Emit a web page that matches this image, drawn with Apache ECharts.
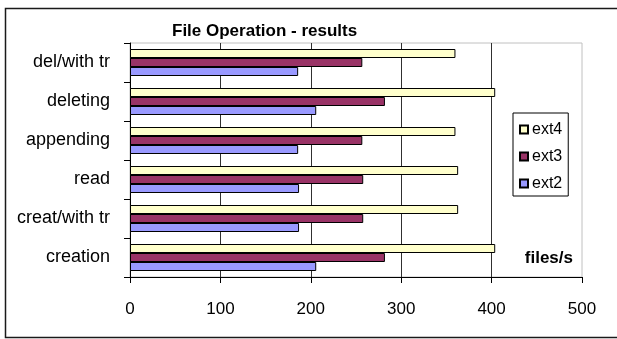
<!DOCTYPE html>
<html>
<head>
<meta charset="utf-8">
<script src="https://cdn.jsdelivr.net/npm/echarts@6/dist/echarts.min.js"></script>
<style>
  html, body { margin: 0; padding: 0; background: #fff; }
  #chart { width: 617px; height: 339px; }
</style>
</head>
<body>
<div id="chart"></div>
<script>
// File operation throughput per filesystem (files/s)
const categories = ['creation', 'creat/with tr', 'read', 'appending', 'deleting', 'del/with tr'];
const ext2 = [206, 187, 187, 186, 206, 186];
const ext3 = [282, 258, 258, 257, 282, 257];
const ext4 = [404, 363, 363, 360, 404, 360];
const xTicks = [0, 100, 200, 300, 400, 500];

const FONT = '"Liberation Sans", Arial, sans-serif';
const chart = echarts.init(document.getElementById('chart'), null, { renderer: 'canvas' });

const barStyle = (color) => ({ color: color, borderColor: '#000', borderWidth: 1 });

chart.setOption({
  animation: false,
  backgroundColor: '#fff',
  textStyle: { fontFamily: FONT },
  title: {
    text: 'File Operation - results',
    left: 172,
    top: 23,
    padding: 0,
    textStyle: { fontFamily: FONT, fontSize: 17, fontWeight: 'bold', color: '#000' }
  },
  grid: {
    left: 130, right: 35, top: 43, bottom: 62,
    show: true, borderColor: '#c0c0c0', borderWidth: 1, backgroundColor: 'transparent'
  },
  legend: {
    orient: 'vertical',
    left: 513,
    top: 113,
    data: ['ext4', 'ext3', 'ext2'],
    icon: 'rect',
    itemWidth: 8,
    itemHeight: 8,
    itemGap: 10,
    padding: [8, 6, 4, 6],
    backgroundColor: '#fff',
    borderColor: '#000',
    borderWidth: 1,
    borderRadius: 0,
    textStyle: { fontFamily: FONT, fontSize: 16, color: '#000', lineHeight: 17, padding: [0, 0, 0, -1] }
  },
  xAxis: {
    type: 'value',
    min: xTicks[0],
    max: xTicks[xTicks.length - 1],
    interval: 100,
    axisLine: { show: true, lineStyle: { color: '#000', width: 1 } },
    axisTick: { show: true, length: 6, lineStyle: { color: '#000' } },
    axisLabel: { margin: 24, fontSize: 17, color: '#000', fontFamily: FONT },
    splitLine: { show: true, showMinLine: false, showMaxLine: false, lineStyle: { color: '#303030', width: 1 } }
  },
  yAxis: {
    type: 'category',
    data: categories,
    axisLine: { show: true, lineStyle: { color: '#000', width: 1 } },
    axisTick: { show: true, length: 6, lineStyle: { color: '#000' } },
    axisLabel: { margin: 20, fontSize: 18, color: '#000', fontFamily: FONT },
    splitLine: { show: false }
  },
  // ext4 first so it sits at the top of each category band
  series: [
    { name: 'ext4', type: 'bar', data: ext4, barWidth: 9, barGap: '0%', itemStyle: barStyle('#ffffcc') },
    { name: 'ext3', type: 'bar', data: ext3, barWidth: 9, barGap: '0%', itemStyle: barStyle('#993366') },
    { name: 'ext2', type: 'bar', data: ext2, barWidth: 9, barGap: '0%', itemStyle: barStyle('#9999ff') }
  ],
  graphic: [
    {
      type: 'rect',
      shape: { x: 5.5, y: 8.5, width: 620, height: 329 },
      style: { fill: 'none', stroke: '#1a1a1a', lineWidth: 1.5 },
      silent: true
    },
    {
      type: 'text',
      right: 44,
      top: 250,
      style: { text: 'files/s', font: 'bold 17px ' + FONT, fill: '#000' },
      silent: true
    }
  ]
});
</script>
</body>
</html>
